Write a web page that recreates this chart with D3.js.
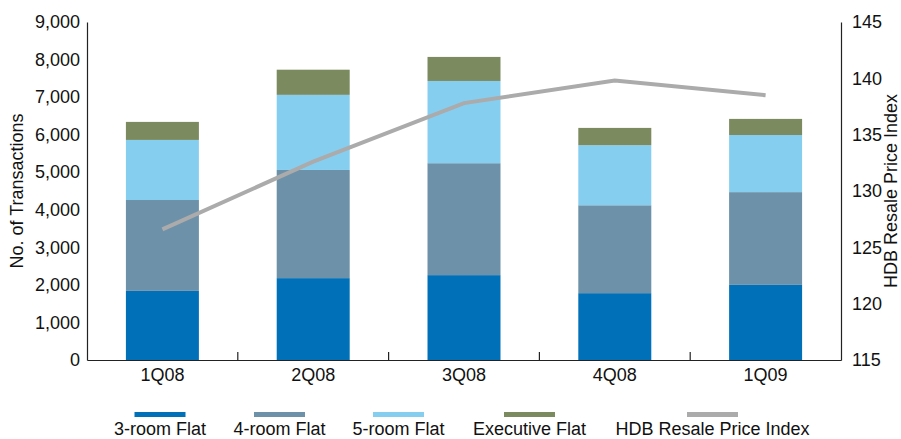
<!DOCTYPE html>
<html>
<head>
<meta charset="utf-8">
<script src="https://cdn.jsdelivr.net/npm/d3@7"></script>
<style>
  html, body { margin: 0; padding: 0; background: #fff; }
  svg { display: block; font-family: "Liberation Sans", Arial, sans-serif; }
</style>
</head>
<body>
<svg id="chart" width="901" height="439"></svg>
<script>
// Quarterly HDB resale transactions by flat type, with the resale price index
const quarters = ["1Q08", "2Q08", "3Q08", "4Q08", "1Q09"];
const threeRoom = [1840, 2180, 2260, 1780, 2000];
const fourRoom = [2420, 2880, 2980, 2340, 2470];
const fiveRoom = [1600, 2000, 2190, 1600, 1520];
const executive = [480, 670, 640, 460, 430];
const priceIndex = [126.6, 132.6, 137.8, 139.8, 138.5];

const leftTicks = [0, 1000, 2000, 3000, 4000, 5000, 6000, 7000, 8000, 9000];
const rightTicks = [115, 120, 125, 130, 135, 140, 145];

const seriesNames = ["3-room Flat", "4-room Flat", "5-room Flat", "Executive Flat"];
const lineName = "HDB Resale Price Index";
const colors = ["#0070b8", "#6d91a8", "#86cef0", "#7b8a5f"];
const lineColor = "#ababab";

const svg = d3.select("#chart");
const plot = { left: 87, right: 841, top: 22, bottom: 360 };

const x = d3.scaleBand().domain(quarters)
  .range([plot.left, plot.right]).paddingInner(0.516).paddingOuter(0.258);
const yL = d3.scaleLinear().domain([0, 9000]).range([plot.bottom, plot.top]);
const yR = d3.scaleLinear().domain([115, 145]).range([plot.bottom, plot.top]);

// Stack the four flat types
const rows = quarters.map((q, i) => ({
  q,
  [seriesNames[0]]: threeRoom[i],
  [seriesNames[1]]: fourRoom[i],
  [seriesNames[2]]: fiveRoom[i],
  [seriesNames[3]]: executive[i]
}));
const stacked = d3.stack().keys(seriesNames)(rows);

svg.append("g").selectAll("g").data(stacked).join("g")
  .attr("fill", (d, i) => colors[i])
  .selectAll("rect").data(d => d).join("rect")
  .attr("x", d => x(d.data.q))
  .attr("width", x.bandwidth())
  .attr("y", d => yL(d[1]))
  .attr("height", d => yL(d[0]) - yL(d[1]));

// Price index line
const line = d3.line()
  .x((d, i) => x(quarters[i]) + x.bandwidth() / 2)
  .y(d => yR(d));
svg.append("path").datum(priceIndex)
  .attr("d", line)
  .attr("fill", "none")
  .attr("stroke", lineColor)
  .attr("stroke-width", 4);

// Axes
const fontSize = 18;
const axisL = svg.append("g").attr("transform", `translate(${plot.left},0)`)
  .call(d3.axisLeft(yL).tickValues(leftTicks).tickSize(0).tickPadding(7)
    .tickFormat(d3.format(",")));
const axisR = svg.append("g").attr("transform", `translate(${plot.right},0)`)
  .call(d3.axisRight(yR).tickValues(rightTicks).tickSize(0).tickPadding(11));
const axisB = svg.append("g").attr("transform", `translate(0,${plot.bottom})`)
  .call(d3.axisBottom(x).tickSize(0).tickPadding(8));

[axisL, axisR, axisB].forEach(g => {
  g.select(".domain").attr("stroke", "#222").attr("stroke-width", 1.2);
  g.selectAll("text").attr("font-size", fontSize).attr("fill", "#111")
    .attr("font-family", "'Liberation Sans', Arial, sans-serif");
});

// Category divider ticks on the bottom axis, pointing up
const step = x.step();
svg.append("g").selectAll("line").data(quarters.slice(1)).join("line")
  .attr("x1", d => x(d) - step * x.paddingInner() / 2)
  .attr("x2", d => x(d) - step * x.paddingInner() / 2)
  .attr("y1", plot.bottom).attr("y2", plot.bottom - 8)
  .attr("stroke", "#222").attr("stroke-width", 1.2);

// Axis titles (both read bottom to top)
svg.append("text")
  .attr("transform", `translate(18,${(plot.top + plot.bottom) / 2}) rotate(-90)`)
  .attr("text-anchor", "middle").attr("dominant-baseline", "middle")
  .attr("font-size", fontSize).attr("fill", "#111")
  .text("No. of Transactions");
svg.append("text")
  .attr("transform", `translate(892,${(plot.top + plot.bottom) / 2}) rotate(-90)`)
  .attr("text-anchor", "middle").attr("dominant-baseline", "middle")
  .attr("font-size", fontSize).attr("fill", "#111")
  .text(lineName);

// Legend
const legendItems = seriesNames.map((n, i) => ({ name: n, color: colors[i] }))
  .concat([{ name: lineName, color: lineColor }]);
const legendCenters = [160, 279.5, 398.5, 529.5, 712.5];
const lg = svg.append("g").selectAll("g").data(legendItems).join("g")
  .attr("transform", (d, i) => `translate(${legendCenters[i]},0)`);
lg.append("rect").attr("x", -25.5).attr("y", 412).attr("width", 51).attr("height", 5)
  .attr("fill", d => d.color);
lg.append("text").attr("x", 0).attr("y", 435).attr("text-anchor", "middle")
  .attr("font-size", fontSize).attr("fill", "#111")
  .text(d => d.name);
</script>
</body>
</html>
